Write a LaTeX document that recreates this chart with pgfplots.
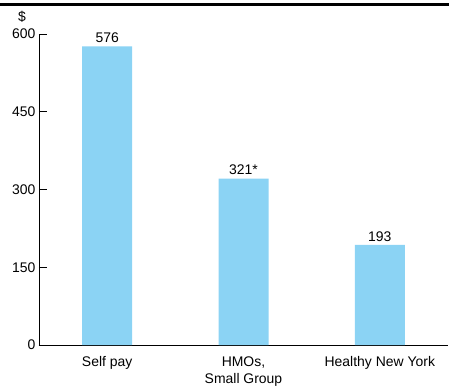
\documentclass[border=0pt]{standalone}
\usepackage{pgfplots}
\pgfplotsset{compat=1.18}
\usepackage{fontspec}
\setmainfont{Liberation Sans}
\definecolor{barblue}{HTML}{8BD3F4}
\begin{document}
\begin{tikzpicture}[font=\fontsize{14}{17}\selectfont]
\useasboundingbox (-39bp,-43bp) rectangle (410bp,345bp);
\begin{axis}[
  at={(0,0)}, anchor=south west,
  scale only axis,
  width=409bp, height=311bp,
  xmin=-0.5, xmax=2.5,
  ymin=0, ymax=600,
  axis lines=left,
  axis line style={-, line width=0.9bp},
  ytick={0,150,300,450,600},
  tick align=inside,
  major tick length=8bp,
  tick style={line width=0.9bp, black},
  xtick={0,1,2},
  xticklabels={Self pay, {HMOs,\\Small Group}, Healthy New York},
  xticklabel style={align=center, yshift=0bp},
  x tick style={draw=none},
  extra x ticks={0.5,1.5,2.5},
  extra x tick labels={},
  extra x tick style={tick style={draw=black, line width=0.9bp}, major tick length=8bp},
  /pgf/number format/assume math mode=true,
  yticklabel style={xshift=0bp},
  ybar, bar width=50bp,
  clip=false,
  nodes near coords,
  point meta=explicit symbolic,
  nodes near coords style={font=\fontsize{14}{17}\selectfont, yshift=0bp},
]
\addplot[fill=barblue, draw=none] table[meta=lab] {
x y lab
0 576 576
1 321 321*
2 193 193
};
\end{axis}
\draw[line width=3bp] (-39bp,340.5bp) -- (410bp,340.5bp);
\node at (-17bp,328bp) {\$};
\end{tikzpicture}
\end{document}
